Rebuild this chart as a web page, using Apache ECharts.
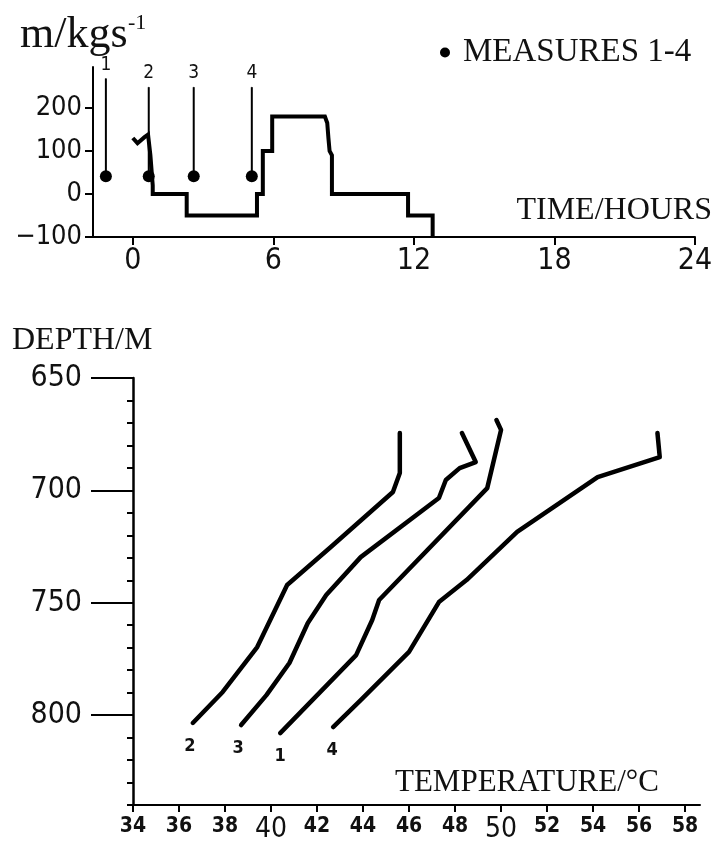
<!DOCTYPE html>
<html>
<head>
<meta charset="utf-8">
<title>flow and temperature profiles</title>
<script src="https://cdn.jsdelivr.net/npm/echarts@6/dist/echarts.min.js"></script>
<style>
  html, body { margin: 0; padding: 0; background: #fff; }
  #chart { width: 719px; height: 847px; }
</style>
</head>
<body>
<div id="chart"></div>
<script>
// top panel: flow rate against time
var flowSteps = [
  [0, 130], [0.2, 118], [0.5, 132], [0.65, 138], [0.75, 90], [0.85, 20], [0.85, 0],
  [2.3, 0], [2.3, -50], [5.3, -50], [5.3, 0], [5.55, 0], [5.55, 100], [5.95, 100],
  [5.95, 180], [8.2, 180], [8.3, 165], [8.35, 130], [8.4, 100], [8.5, 90], [8.5, 0],
  [11.75, 0], [11.75, -50], [12.8, -50], [12.8, -100]
];
var measureTimes = [-1.15, 0.68, 2.6, 5.08];
var measureValue = 41;
var stemTops = [268, 248, 248, 248];
var measureNames = ['1', '2', '3', '4'];
var timeTicks = [0, 6, 12, 18, 24];
var flowTicks = [-100, 0, 100, 200];

// bottom panel: temperature against depth, one profile per measure
var profile1 = [[40.4, 808], [43.7, 773.3], [44.4, 757.7], [44.7, 748.8], [49.4, 699], [50.0, 673.1], [49.8, 668.7]];
var profile2 = [[36.6, 803.5], [37.9, 789.7], [39.4, 769.7], [40.7, 742.1], [42.6, 725.2], [45.3, 700.7], [45.6, 692.3], [45.6, 674.5]];
var profile3 = [[38.7, 804.4], [39.8, 791.1], [40.8, 776.8], [41.6, 759], [42.4, 746.6], [43.9, 729.7], [47.3, 703.4], [47.6, 695.4], [48.2, 690.1], [48.9, 687.4], [48.3, 674.5]];
var profile4 = [[42.7, 805.3], [43.9, 793.3], [46.0, 771.9], [47.3, 749.7], [48.5, 739.9], [50.7, 718.5], [54.2, 694.1], [56.9, 685.2], [56.8, 674.5]];
var tempTicks = [34, 36, 38, 40, 42, 44, 46, 48, 50, 52, 54, 56, 58];
var bigTempTicks = [40, 50];
var depthTicks = [650, 700, 750, 800];

var ink = '#000';
var textInk = '#111';
var tickFont = "'DejaVu Sans Condensed', 'DejaVu Sans', sans-serif";
var serif = "'Liberation Serif', 'DejaVu Serif', serif";

function profileSeries(name, pts, labelOffset) {
  var data = pts.map(function (p, i) {
    if (i === 0) {
      return {
        value: p,
        symbol: 'circle',
        symbolSize: 1,
        label: {
          show: true, position: 'bottom', distance: 14, offset: [labelOffset, 0],
          formatter: name, fontFamily: tickFont, fontWeight: 'bold', fontSize: 18, color: textInk
        }
      };
    }
    return p;
  });
  return {
    type: 'line',
    xAxisIndex: 1,
    yAxisIndex: 1,
    data: data,
    symbol: 'none',
    lineStyle: { color: ink, width: 4.5, cap: 'round', join: 'round' },
    itemStyle: { color: ink },
    silent: true,
    z: 3
  };
}

var stemSeries = measureTimes.map(function (t, i) {
  return {
    type: 'line',
    xAxisIndex: 0,
    yAxisIndex: 0,
    data: [
      [t, measureValue],
      {
        value: [t, stemTops[i]],
        symbol: 'circle',
        symbolSize: 1,
        label: {
          show: true, position: 'top', distance: 4, formatter: measureNames[i],
          fontFamily: tickFont, fontSize: 19, color: textInk
        }
      }
    ],
    symbol: 'none',
    lineStyle: { color: ink, width: 2 },
    itemStyle: { color: ink },
    silent: true
  };
});

var chart = echarts.init(document.getElementById('chart'));

chart.setOption({
  animation: false,
  backgroundColor: '#fff',
  legend: {
    data: ['MEASURES 1-4'],
    left: 440,
    top: 36,
    padding: 0,
    icon: 'circle',
    itemWidth: 26,
    itemHeight: 10,
    itemStyle: { color: ink, opacity: 1 },
    textStyle: { fontFamily: serif, fontSize: 33, color: textInk },
    selectedMode: false
  },
  grid: [
    { left: 93, right: 24, top: 67, bottom: 610 },
    { left: 133, right: 19, top: 378, bottom: 42 }
  ],
  xAxis: [
    {
      type: 'value', gridIndex: 0, min: -1.7, max: 24, position: 'bottom',
      splitLine: { show: false },
      axisLine: { onZero: false, lineStyle: { color: ink, width: 2 } },
      axisTick: { customValues: timeTicks, length: 8, lineStyle: { color: ink, width: 2 } },
      axisLabel: { customValues: timeTicks, margin: 9, fontFamily: tickFont, fontSize: 30, color: textInk }
    },
    {
      type: 'value', gridIndex: 1, min: 34, max: 58.65, position: 'bottom',
      splitLine: { show: false },
      axisLine: { onZero: false, lineStyle: { color: ink, width: 2 } },
      axisTick: { customValues: tempTicks, length: 7, lineStyle: { color: ink, width: 2 } },
      axisLabel: {
        customValues: tempTicks,
        margin: 11,
        color: textInk,
        formatter: function (v) {
          return bigTempTicks.indexOf(v) >= 0 ? '{big|' + v + '}' : '{small|' + v + '}';
        },
        rich: {
          small: { fontFamily: tickFont, fontWeight: 'bold', fontSize: 21, color: textInk },
          big: { fontFamily: tickFont, fontSize: 28, color: textInk }
        }
      }
    }
  ],
  yAxis: [
    {
      type: 'value', gridIndex: 0, min: -100, max: 295, position: 'left',
      splitLine: { show: false },
      axisLine: { onZero: false, lineStyle: { color: ink, width: 2 } },
      axisTick: { customValues: flowTicks, length: 8, lineStyle: { color: ink, width: 2 } },
      axisLabel: {
        customValues: flowTicks, margin: 11, fontFamily: tickFont, fontSize: 27, color: textInk,
        formatter: function (v) { return String(v).replace('-', '\u2212'); }
      }
    },
    {
      type: 'value', gridIndex: 1, min: 650, max: 840, inverse: true, position: 'left',
      splitLine: { show: false },
      axisLine: { onZero: false, lineStyle: { color: ink, width: 2.5 } },
      axisTick: { customValues: depthTicks, length: 42, lineStyle: { color: ink, width: 2 } },
      axisLabel: { customValues: depthTicks, margin: 51, fontFamily: tickFont, fontSize: 30, color: textInk }
    },
    {
      // short ticks every 10 m on the depth axis
      type: 'value', gridIndex: 1, min: 650, max: 840, interval: 10, inverse: true, position: 'left', offset: 0,
      splitLine: { show: false },
      axisLine: { show: false, onZero: false },
      axisTick: { length: 6, lineStyle: { color: ink, width: 2 } },
      axisLabel: { show: false }
    }
  ],
  graphic: [
    { type: 'text', x: 20, y: 35, style: { text: 'm/kgs', fill: textInk, fontFamily: serif, fontSize: 44, align: 'left', verticalAlign: 'middle' } },
    { type: 'text', x: 128, y: 23, style: { text: '-1', fill: textInk, fontFamily: serif, fontSize: 22, align: 'left', verticalAlign: 'middle' } },
    { type: 'text', x: 712, y: 211, style: { text: 'TIME/HOURS', fill: textInk, fontFamily: serif, fontSize: 32, align: 'right', verticalAlign: 'middle' } },
    { type: 'text', x: 12, y: 341, style: { text: 'DEPTH/M', fill: textInk, fontFamily: serif, fontSize: 32, align: 'left', verticalAlign: 'middle' } },
    { type: 'text', x: 395, y: 783, style: { text: 'TEMPERATURE/°C', fill: textInk, fontFamily: serif, fontSize: 31, align: 'left', verticalAlign: 'middle' } }
  ],
  series: [
    {
      name: 'flow',
      type: 'line',
      xAxisIndex: 0,
      yAxisIndex: 0,
      data: flowSteps,
      symbol: 'none',
      lineStyle: { color: ink, width: 4, join: 'miter' },
      silent: true,
      z: 3
    }
  ].concat(stemSeries).concat([
    {
      name: 'MEASURES 1-4',
      type: 'scatter',
      xAxisIndex: 0,
      yAxisIndex: 0,
      data: measureTimes.map(function (t) { return [t, measureValue]; }),
      symbol: 'circle',
      symbolSize: 12,
      itemStyle: { color: ink, opacity: 1 },
      silent: true,
      z: 4
    },
    profileSeries('1', profile1, 0),
    profileSeries('2', profile2, -3),
    profileSeries('3', profile3, -3),
    profileSeries('4', profile4, -1)
  ])
});
</script>
</body>
</html>
